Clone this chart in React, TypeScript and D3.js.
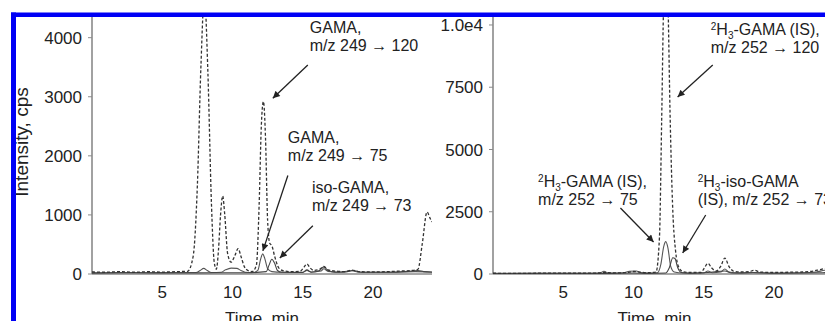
import { useEffect, useRef } from 'react';
import * as d3 from 'd3';

type Pt = [number, number];

// tick values
const xTicks = [5, 10, 15, 20];
const leftYTicks = [0, 1000, 2000, 3000, 4000];
const leftYTickLabels = ['0', '1000', '2000', '3000', '4000'];
const rightYTicks = [0, 2500, 5000, 7500, 10000];
const rightYTickLabels = ['0', '2500', '5000', '7500', '1.0e4'];

// left panel: GAMA transitions (time min, cps)
const gama120: Pt[] = [
  [0, 35], [1, 30], [2, 40], [3, 30], [4, 38], [5, 32], [6, 40], [6.8, 45], [7.2, 300], [7.5, 1500],
  [7.75, 3500], [8.0, 4700], [8.25, 3400], [8.5, 1200], [8.7, 200], [8.85, 80], [9.0, 400], [9.15, 1000],
  [9.3, 1320], [9.45, 1000], [9.65, 350], [9.9, 200], [10.15, 300], [10.4, 430], [10.6, 300], [10.85, 120],
  [11.1, 60], [11.4, 40], [11.7, 150], [11.9, 1200], [12.05, 2500], [12.2, 2920], [12.35, 2300], [12.5, 900],
  [12.65, 520], [12.8, 480], [13.0, 300], [13.3, 100], [13.7, 50], [14.2, 40], [14.8, 45], [15.1, 120],
  [15.3, 170], [15.5, 110], [15.8, 60], [16.2, 80], [16.5, 130], [16.8, 70], [17.3, 50], [18, 40],
  [18.5, 65], [19, 40], [20, 35], [21, 40], [22, 50], [22.8, 60], [23.2, 80], [23.5, 500], [23.85, 1050],
  [24.05, 950], [24.2, 880],
];
const gama75: Pt[] = [
  [0, 20], [2, 25], [4, 20], [6, 25], [7.4, 25], [7.7, 60], [7.95, 95], [8.2, 60], [8.5, 25], [9.2, 30],
  [9.5, 70], [9.9, 100], [10.3, 95], [10.6, 60], [10.9, 30], [11.5, 25], [11.8, 60], [12.0, 250],
  [12.15, 340], [12.3, 260], [12.5, 90], [12.8, 40], [13.5, 30], [15, 30], [15.3, 60], [15.6, 35],
  [16.3, 50], [16.5, 90], [16.8, 45], [18, 30], [18.5, 55], [19, 30], [21, 30], [23, 40], [24.2, 35],
];
const isoGama73: Pt[] = [
  [0, 15], [3, 20], [6, 18], [9, 20], [11, 20], [12.4, 40], [12.6, 150], [12.8, 250], [13.0, 180],
  [13.2, 60], [13.5, 30], [15, 25], [15.3, 70], [15.6, 30], [16.2, 60], [16.5, 120], [16.8, 60],
  [17.3, 30], [18.3, 50], [18.6, 60], [19.2, 30], [21, 30], [22.5, 45], [23.2, 60], [23.6, 40], [24.2, 30],
];

// right panel: internal standard transitions
const is120: Pt[] = [
  [0, 30], [2, 25], [4, 35], [6, 30], [7.5, 40], [8, 60], [8.5, 40], [9.5, 60], [10, 100], [10.5, 70],
  [11, 50], [11.6, 80], [11.85, 1500], [12.0, 6000], [12.15, 11000], [12.3, 12500], [12.45, 11000],
  [12.6, 6500], [12.8, 2500], [13.0, 900], [13.2, 300], [13.5, 100], [14, 60], [14.8, 60], [15.05, 250],
  [15.3, 430], [15.55, 250], [15.9, 120], [16.2, 300], [16.5, 640], [16.8, 300], [17.1, 120], [17.6, 80],
  [18.2, 90], [18.6, 150], [19, 80], [20, 60], [21, 70], [22, 80], [22.8, 120], [23.3, 180], [23.7, 220],
  [24.2, 200],
];
const is75: Pt[] = [
  [0, 30], [3, 25], [6, 30], [7.6, 40], [7.9, 110], [8.2, 40], [9.3, 50], [9.7, 110], [10.2, 120],
  [10.5, 60], [11, 40], [11.7, 50], [11.95, 400], [12.15, 1100], [12.3, 1300], [12.45, 1050], [12.65, 300],
  [12.9, 80], [13.5, 40], [15, 40], [15.3, 120], [15.6, 50], [16.2, 80], [16.5, 200], [16.8, 80],
  [17.5, 40], [18.5, 60], [20, 40], [22, 50], [23, 80], [23.6, 150], [24.2, 170],
];
const isIso73: Pt[] = [
  [0, 20], [5, 25], [8, 25], [10, 40], [11, 25], [12.3, 40], [12.55, 250], [12.8, 650], [12.95, 620],
  [13.15, 250], [13.4, 60], [14, 30], [15.3, 60], [16.5, 120], [17, 40], [18.5, 50], [20, 30], [22, 40],
  [24.2, 60],
];

interface Note {
  lines: { pre?: string; sup?: string; sub?: string; text: string }[];
  at: Pt;       // text anchor (data coords)
  from: Pt;     // arrow tail
  to: Pt;       // arrow head
}

const leftNotes: Note[] = [
  { lines: [{ text: 'GAMA,' }, { text: 'm/z 249 \u2192 120' }], at: [15.5, 4080], from: [15.36, 3537], to: [12.87, 2976] },
  { lines: [{ text: 'GAMA,' }, { text: 'm/z 249 \u2192 75' }], at: [13.94, 2211], from: [13.94, 1667], to: [12.16, 391] },
  { lines: [{ text: 'iso-GAMA,' }, { text: 'm/z 249 \u2192 73' }], at: [15.65, 1378], from: [15.72, 816], to: [13.37, 272] },
];
const rightNotes: Note[] = [
  { lines: [{ sup: '2', pre: 'H', sub: '3', text: '-GAMA (IS),' }, { text: 'm/z 252 \u2192 120' }], at: [15.5, 9600], from: [15.64, 8390], to: [13.14, 7110] },
  { lines: [{ sup: '2', pre: 'H', sub: '3', text: '-GAMA (IS),' }, { text: 'm/z 252 \u2192 75' }], at: [3.21, 3494], from: [9.07, 2650], to: [11.43, 1285] },
  { lines: [{ sup: '2', pre: 'H', sub: '3', text: '-iso-GAMA' }, { text: '(IS), m/z 252 \u2192 73' }], at: [14.57, 3494], from: [15.14, 2370], to: [13.5, 843] },
];

export default function App() {
  const svgRef = useRef<SVGSVGElement | null>(null);

  useEffect(() => {
    if (!svgRef.current) return;
    const svg = d3.select(svgRef.current);
    svg.selectAll('*').remove();

    const W = 825, H = 321;
    const top = 17, base = 274;
    const font = 'Liberation Sans, Arial, sans-serif';

    svg.append('rect').attr('width', W).attr('height', H).attr('fill', '#fff');

    const defs = svg.append('defs');
    defs.append('marker')
      .attr('id', 'ah')
      .attr('viewBox', '0 0 10 10')
      .attr('refX', 10).attr('refY', 5)
      .attr('markerWidth', 9).attr('markerHeight', 7)
      .attr('markerUnits', 'userSpaceOnUse')
      .attr('orient', 'auto')
      .append('path').attr('d', 'M0,0 L10,5 L0,10 Z').attr('fill', '#222');

    const panels = [
      { x0: 92, x1: 432, yMax: 4350, ticks: leftYTicks, labels: leftYTickLabels, series: [gama120, gama75, isoGama73], notes: leftNotes, id: 'L' },
      { x0: 493, x1: 832, yMax: 10320, ticks: rightYTicks, labels: rightYTickLabels, series: [is120, is75, isIso73], notes: rightNotes, id: 'R' },
    ];

    panels.forEach(p => {
      const x = d3.scaleLinear().domain([0, (p.x1 - p.x0) / 14.05]).range([p.x0, p.x1]);
      const y = d3.scaleLinear().domain([0, p.yMax]).range([base, top]);

      defs.append('clipPath').attr('id', 'clip' + p.id)
        .append('rect').attr('x', p.x0).attr('y', top).attr('width', p.x1 - p.x0).attr('height', base - top + 2);

      const g = svg.append('g');

      // axes
      g.append('line').attr('x1', p.x0).attr('x2', p.x0).attr('y1', top).attr('y2', base)
        .attr('stroke', '#8a8a8a').attr('stroke-width', 1.6);
      g.append('line').attr('x1', p.x0).attr('x2', p.x1).attr('y1', base).attr('y2', base)
        .attr('stroke', '#8a8a8a').attr('stroke-width', 1.6);

      p.ticks.forEach((t, i) => {
        g.append('line').attr('x1', p.x0 - 4).attr('x2', p.x0).attr('y1', y(t)).attr('y2', y(t))
          .attr('stroke', '#8a8a8a').attr('stroke-width', 1);
        g.append('text').attr('x', p.x0 - 10).attr('y', y(t)).attr('dy', '0.36em')
          .attr('text-anchor', 'end').style('font-family', font).style('font-size', '17px')
          .attr('fill', '#222').text(p.labels[i]);
      });
      xTicks.forEach(t => {
        g.append('text').attr('x', x(t)).attr('y', 298).attr('text-anchor', 'middle')
          .style('font-family', font).style('font-size', '17px').attr('fill', '#222').text(String(t));
      });
      g.append('text').attr('x', p.id === 'L' ? x(12.1) : x(11.5)).attr('y', 324).attr('text-anchor', 'middle')
        .style('font-family', font).style('font-size', '17px').attr('fill', '#222').text('Time, min');

      // traces
      const line = d3.line<Pt>().x(d => x(d[0])).y(d => y(d[1])).curve(d3.curveMonotoneX);
      const traces = g.append('g').attr('clip-path', `url(#clip${p.id})`);
      traces.append('path').attr('d', line(p.series[1])).attr('fill', 'none')
        .attr('stroke', '#555').attr('stroke-width', 1.1);
      traces.append('path').attr('d', line(p.series[2])).attr('fill', 'none')
        .attr('stroke', '#444').attr('stroke-width', 1.1);
      traces.append('path').attr('d', line(p.series[0])).attr('fill', 'none')
        .attr('stroke', '#333').attr('stroke-width', 1.3).attr('stroke-dasharray', '3,2');

      // annotations
      p.notes.forEach(n => {
        const t = g.append('text').attr('x', x(n.at[0])).attr('y', y(n.at[1]))
          .style('font-family', font).style('font-size', '16px').attr('fill', '#222');
        n.lines.forEach((l, i) => {
          const first = t.append('tspan').attr('x', x(n.at[0])).attr('dy', i === 0 ? 0 : 18);
          if (l.sup) {
            first.style('font-size', '10px').attr('dy', i === 0 ? -5 : 13).text(l.sup);
            t.append('tspan').attr('dy', 5).text(l.pre || '');
            t.append('tspan').style('font-size', '10px').attr('dy', 4).text(l.sub || '');
            t.append('tspan').attr('dy', -4).text(l.text);
          } else {
            first.text(l.text);
          }
        });
        g.append('line')
          .attr('x1', x(n.from[0])).attr('y1', y(n.from[1]))
          .attr('x2', x(n.to[0])).attr('y2', y(n.to[1]))
          .attr('stroke', '#222').attr('stroke-width', 1.3)
          .attr('marker-end', 'url(#ah)');
      });
    });

    // y axis title
    svg.append('text')
      .attr('transform', 'translate(28,142) rotate(-90)')
      .attr('text-anchor', 'middle')
      .style('font-family', font).style('font-size', '19px').attr('fill', '#222')
      .text('Intensity, cps');

    // blue frame
    svg.append('rect').attr('x', 0).attr('y', 0).attr('width', W).attr('height', 12.5).attr('fill', '#fff');
    svg.append('rect').attr('x', 0).attr('y', 0).attr('width', 11).attr('height', H).attr('fill', '#fff');
    svg.append('rect').attr('x', 11).attr('y', 12.5).attr('width', W - 11).attr('height', 4.5).attr('fill', '#0000f5');
    svg.append('rect').attr('x', 11).attr('y', 12.5).attr('width', 5).attr('height', H).attr('fill', '#0000f5');
  }, []);

  return (
    <svg ref={svgRef} width={825} height={321}
      style={{ position: 'absolute', left: 0, top: 0, display: 'block' }} />
  );
}
